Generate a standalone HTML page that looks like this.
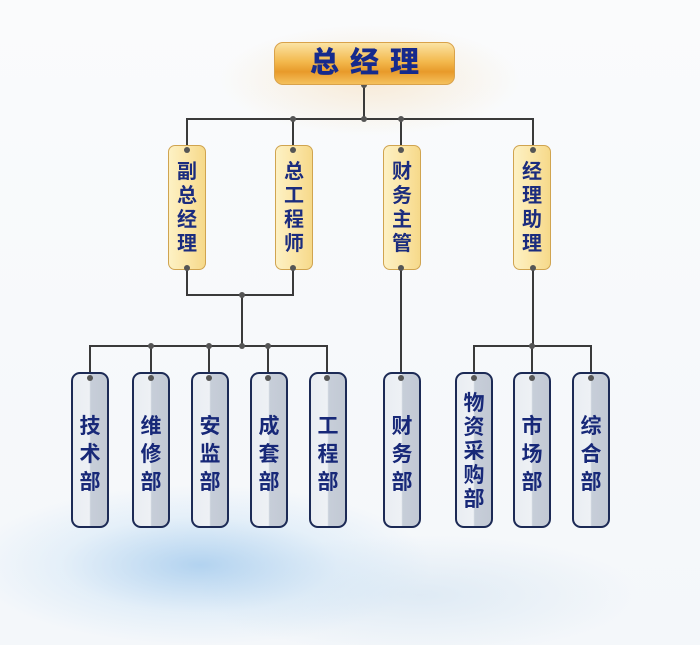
<!DOCTYPE html>
<html><head><meta charset="utf-8"><style>
html,body{margin:0;padding:0}
body{width:700px;height:645px;position:relative;overflow:hidden;
background:
radial-gradient(ellipse 230px 80px at 200px 565px, rgba(150,195,235,.7), rgba(190,220,245,.3) 60%, rgba(255,255,255,0) 100%),
radial-gradient(ellipse 220px 60px at 420px 595px, rgba(205,224,240,.55), rgba(255,255,255,0) 100%),
radial-gradient(ellipse 150px 55px at 370px 80px, rgba(245,215,170,.45), rgba(255,255,255,0) 100%),
linear-gradient(#fafbfc,#f4f7fa);
font-family:"Liberation Sans","Noto Sans CJK SC",sans-serif;}
.a{position:absolute}
.top{left:274px;top:42px;width:181px;height:43px;border-radius:9px;border:1px solid #d9a24a;
background:linear-gradient(#fbe3a4 0%,#f3b94e 45%,#e89a2a 70%,#f4c15c 100%);box-sizing:border-box;
color:#162a8c;font-weight:900;font-size:29px;line-height:41px;text-align:center;letter-spacing:11px;text-indent:11px}
.y{width:38px;height:125px;top:145px;border-radius:7px;border:1.5px solid #d0a450;box-sizing:border-box;
background:linear-gradient(90deg,#fdf1c4,#fbe6a8 50%,#f6d98a 100%);color:#1b2c7e;font-weight:bold;font-size:20px;
display:flex;flex-direction:column;align-items:center;justify-content:center;line-height:24px}
.g{width:38px;height:156px;top:372px;border-radius:9px;border:2px solid #1c2a55;box-sizing:border-box;
background:linear-gradient(90deg,#e9edf2 0%,#eef1f5 48%,#c7ced9 52%,#c2c9d4 100%);color:#172878;font-weight:bold;font-size:21px;
display:flex;flex-direction:column;align-items:center;justify-content:center;line-height:28px;padding-top:10px}
svg{position:absolute;left:0;top:0}
.d{position:absolute;width:6px;height:6px;border-radius:3px;background:#555;z-index:3}
</style></head><body>
<svg width="700" height="645">
<g stroke="#3a3a3a" stroke-width="2" fill="none">
<path d="M364 85V119M187 145V119H533V145M293 119V145M401 119V145"/>
<path d="M187 270V295H293V270M242 295V346M90 372V346H327V372M151 346V372M209 346V372M268 346V372"/>
<path d="M401 270V372"/>
<path d="M533 270V346M474 372V346H591V372M532 346V372"/>
</g>
<g fill="#555">
<circle cx="364" cy="85" r="3"/><circle cx="364" cy="119" r="3"/><circle cx="293" cy="119" r="3"/><circle cx="401" cy="119" r="3"/>
<circle cx="242" cy="295" r="3"/><circle cx="242" cy="346" r="3"/><circle cx="151" cy="346" r="3"/><circle cx="209" cy="346" r="3"/><circle cx="268" cy="346" r="3"/>
<circle cx="532" cy="346" r="3"/>
</g>
</svg>
<div class="a top">总经理</div>
<div class="a y" style="left:168px"><span>副</span><span>总</span><span>经</span><span>理</span></div>
<div class="a y" style="left:275px"><span>总</span><span>工</span><span>程</span><span>师</span></div>
<div class="a y" style="left:383px"><span>财</span><span>务</span><span>主</span><span>管</span></div>
<div class="a y" style="left:513px"><span>经</span><span>理</span><span>助</span><span>理</span></div>
<div class="a g" style="left:71px"><span>技</span><span>术</span><span>部</span></div>
<div class="a g" style="left:132px"><span>维</span><span>修</span><span>部</span></div>
<div class="a g" style="left:191px"><span>安</span><span>监</span><span>部</span></div>
<div class="a g" style="left:250px"><span>成</span><span>套</span><span>部</span></div>
<div class="a g" style="left:309px"><span>工</span><span>程</span><span>部</span></div>
<div class="a g" style="left:383px"><span>财</span><span>务</span><span>部</span></div>
<div class="a g" style="left:455px;line-height:24px;padding-top:4px"><span>物</span><span>资</span><span>采</span><span>购</span><span>部</span></div>
<div class="a g" style="left:513px"><span>市</span><span>场</span><span>部</span></div>
<div class="a g" style="left:572px"><span>综</span><span>合</span><span>部</span></div>
<div class="d" style="left:184px;top:147px"></div><div class="d" style="left:290px;top:147px"></div><div class="d" style="left:398px;top:147px"></div><div class="d" style="left:530px;top:147px"></div>
<div class="d" style="left:184px;top:265px"></div><div class="d" style="left:290px;top:265px"></div><div class="d" style="left:398px;top:265px"></div><div class="d" style="left:530px;top:265px"></div>
<div class="d" style="left:87px;top:375px"></div><div class="d" style="left:148px;top:375px"></div><div class="d" style="left:206px;top:375px"></div><div class="d" style="left:265px;top:375px"></div><div class="d" style="left:324px;top:375px"></div>
<div class="d" style="left:398px;top:375px"></div><div class="d" style="left:471px;top:375px"></div><div class="d" style="left:529px;top:375px"></div><div class="d" style="left:588px;top:375px"></div>
</body></html>
